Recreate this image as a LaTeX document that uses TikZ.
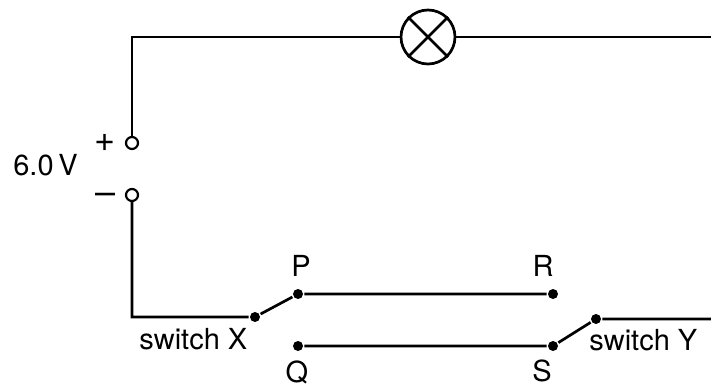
\documentclass[tikz,border=0pt]{standalone}
\usepackage{fontspec}
\setmainfont{TeX Gyre Heros}
\begin{document}
\begin{tikzpicture}[x=1pt,y=-1pt,line width=2.7pt,
  term/.style={circle,draw,fill=white,inner sep=0pt,minimum size=12pt,line width=2.2pt},
  contact/.style={circle,fill=black,inner sep=0pt,minimum size=10pt},
  lbl/.style={font=\fontsize{29}{32}\selectfont,inner sep=0pt},
  sign/.style={font=\fontsize{36}{38}\selectfont,inner sep=0pt}]

\useasboundingbox (0,0) rectangle (711,387);

% supply terminals and lamp
\node[term] (plus) at (132,143) {};
\node[term] (minus) at (132,195) {};
\node[circle,draw,fill=white,minimum size=54pt,inner sep=0pt] (lamp) at (428,37) {};
\coordinate (topright) at (711,37);

% switch contacts
\node[contact] (pivX) at (255,317) {};
\node[contact] (P) at (298,294) {};
\node[contact] (Q) at (298,346) {};
\node[contact] (R) at (553,294) {};
\node[contact] (S) at (553,346) {};
\node[contact] (pivY) at (596,319) {};
\coordinate (botright) at (711,319);

% wires
\draw (plus) |- (lamp) -- (topright);
\draw (lamp.north west) -- (lamp.south east);
\draw (lamp.south west) -- (lamp.north east);
\draw (minus) |- (pivX) -- (P) -- (R);
\draw (Q) -- (S) -- (pivY) -- (botright);

% labels
\node[lbl,anchor=base west] (volt) at (12,176) {6.0\,V};
\node[sign] (plussign) at (105,143) {+};
\node[sign] (minussign) at (106,199) {–};
\node[lbl,anchor=base] (Plbl) at (301,276) {P};
\node[lbl,anchor=base] (Rlbl) at (543,276) {R};
\node[lbl,anchor=base] (Qlbl) at (297,382) {Q};
\node[lbl,anchor=base] (Slbl) at (542,381) {S};
\node[lbl,anchor=base west] (swX) at (138,349) {switch X};
\node[lbl,anchor=base west] (swY) at (588,350) {switch Y};

\end{tikzpicture}
\end{document}
